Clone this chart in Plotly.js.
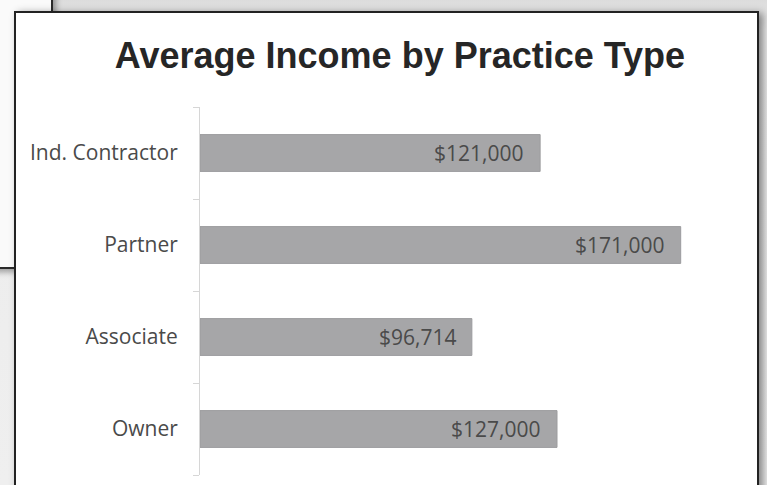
<!DOCTYPE html>
<html>
<head>
<meta charset="utf-8">
<script src="https://cdn.plot.ly/plotly-3.0.1.min.js"></script>
<style>
  html, body { margin: 0; padding: 0; }
  body { width: 767px; height: 485px; overflow: hidden; position: relative;
         background: linear-gradient(#dcdcdc, #ececec 30px, #efefef); }
  #backBox { position: absolute; left: -10px; top: -10px; width: 59px; height: 275px;
             background: #fafafa; border: 2px solid #2a2a2a;
             box-shadow: 3px 3px 6px rgba(0,0,0,0.35); }
  #frontBox { position: absolute; left: 14px; top: 11px; width: 741px; height: 500px;
              background: #ffffff; border: 2px solid #222222;
              box-shadow: 4px 2px 8px rgba(0,0,0,0.45); }
  #chart { position: absolute; left: 0; top: 0; width: 767px; height: 485px; }
</style>
</head>
<body>
<div id="backBox"></div>
<div id="frontBox"></div>
<div id="chart"></div>
<script>
// bottom to top, like the axis draws them
const practiceTypes = ['Owner', 'Associate', 'Partner', 'Ind. Contractor'];
const avgIncome = [127000, 96714, 171000, 121000];

function money(v) {
    return '$' + v.toLocaleString('en-US');
}

const labelFont = { family: 'Open Sans, Lato, sans-serif', size: 21, color: '#4a4a4a' };

const data = [{
    type: 'bar',
    orientation: 'h',
    x: avgIncome,
    y: practiceTypes,
    marker: { color: '#a6a6a8', line: { color: '#9c9c9e', width: 1 } },
    hoverinfo: 'none'
}];

// value labels sit inside the bar end
const valueLabels = avgIncome.map((v, i) => ({
    x: v,
    y: practiceTypes[i],
    xref: 'x',
    yref: 'y',
    text: money(v),
    showarrow: false,
    xanchor: 'right',
    xshift: -14,
    font: labelFont
}));

const layout = {
    width: 767,
    height: 485,
    paper_bgcolor: 'rgba(0,0,0,0)',
    plot_bgcolor: 'rgba(0,0,0,0)',
    margin: { l: 200, r: 61, t: 107, b: 10 },
    title: {
        text: '<b>Average Income by Practice Type</b>',
        font: { family: 'Liberation Sans Narrow, Liberation Sans, Arial, sans-serif', size: 36, color: '#262626' },
        x: 400 / 767,
        xanchor: 'center',
        y: 1 - 55 / 485,
        yanchor: 'middle'
    },
    bargap: 0.6,
    showlegend: false,
    xaxis: {
        visible: false,
        range: [0, 180000],
        fixedrange: true
    },
    yaxis: {
        type: 'category',
        showline: true,
        linecolor: '#d6d6d6',
        linewidth: 1,
        ticks: 'outside',
        tickson: 'boundaries',
        ticklen: 6,
        tickcolor: '#d6d6d6',
        ticklabelstandoff: 17,
        showgrid: false,
        tickfont: labelFont,
        fixedrange: true
    },
    annotations: valueLabels
};

Plotly.newPlot('chart', data, layout, { displayModeBar: false, staticPlot: true });
</script>
</body>
</html>
